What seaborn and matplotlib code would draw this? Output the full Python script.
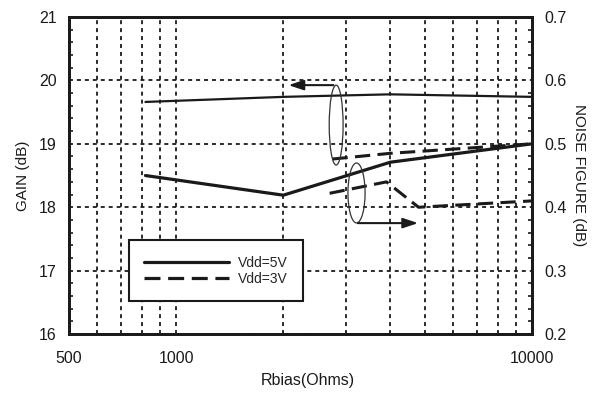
import numpy as np
import pandas as pd
import matplotlib
matplotlib.use("Agg")
import matplotlib.pyplot as plt
from matplotlib.patches import Ellipse
from matplotlib.lines import Line2D
from matplotlib.ticker import FixedLocator, NullFormatter, FixedFormatter
import seaborn as sns

# Gain (left axis) and noise figure (right axis) versus bias resistor
gain_5v_r = [820, 2000, 4000, 10000]
gain_5v = [19.66, 19.74, 19.78, 19.74]
gain_3v_r = [2750, 4000, 10000]
gain_3v = [18.76, 18.85, 19.0]

nf_5v_r = [820, 2000, 4000, 10000]
nf_5v = [0.450, 0.419, 0.471, 0.500]
nf_3v_r = [2700, 3900, 4800, 10000]
nf_3v = [0.422, 0.440, 0.400, 0.410]

x_tick_vals = [500, 1000, 10000]
x_tick_labels = ["500", "1000", "10000"]
gain_ticks = [16, 17, 18, 19, 20, 21]
nf_ticks = [0.2, 0.3, 0.4, 0.5, 0.6, 0.7]

INK = "#1a1a1a"

sns.set_style("white")
plt.rcParams["font.family"] = ["Liberation Sans", "DejaVu Sans"]

fig = plt.figure(figsize=(5.97, 3.94), dpi=100)
ax = fig.add_axes([0.1156, 0.152, 0.7755, 0.805])
ax2 = ax.twinx()

dashed = (5, 2.4)

# Gain curves on the left axis
sns.lineplot(x=gain_5v_r, y=gain_5v, color=INK, linewidth=1.6, ax=ax, sort=False)
sns.lineplot(x=gain_3v_r, y=gain_3v, color=INK, linewidth=2.2, ax=ax, sort=False,
             dashes=False).lines[-1].set_dashes(dashed)
# Noise-figure curves on the right axis
sns.lineplot(x=nf_5v_r, y=nf_5v, color=INK, linewidth=2.3, ax=ax2, sort=False)
sns.lineplot(x=nf_3v_r, y=nf_3v, color=INK, linewidth=2.2, ax=ax2, sort=False).lines[-1].set_dashes(dashed)

for a in (ax, ax2):
    a.set_xscale("log")
    a.set_xlim(500, 10000)

ax.set_ylim(16, 21)
ax2.set_ylim(0.2, 0.7)

# x ticks: labels only at 500, 1000, 10000; grid at every decade subdivision
minor_x = [600, 700, 800, 900, 2000, 3000, 4000, 5000, 6000, 7000, 8000, 9000]
ax.xaxis.set_major_locator(FixedLocator(x_tick_vals))
ax.xaxis.set_major_formatter(FixedFormatter(x_tick_labels))
ax.xaxis.set_minor_locator(FixedLocator(minor_x))
ax.xaxis.set_minor_formatter(NullFormatter())

ax.set_yticks(gain_ticks)
ax.set_yticklabels([str(v) for v in gain_ticks])
ax.yaxis.set_minor_locator(FixedLocator(np.arange(16, 21.01, 0.2)))
ax2.set_yticks(nf_ticks)
ax2.set_yticklabels([f"{v:.1f}" for v in nf_ticks])
ax2.yaxis.set_minor_locator(FixedLocator(np.arange(0.2, 0.701, 0.02)))

grid_kw = dict(color=INK, linestyle=(0, (2.2, 2.2)), linewidth=1.3)
ax.grid(True, which="both", axis="x", **grid_kw)
ax.grid(True, which="major", axis="y", **grid_kw)
ax2.grid(False)

ax.tick_params(axis="x", which="both", length=0, labelsize=11.5, pad=12, colors=INK)
ax.tick_params(axis="y", which="major", length=0, labelsize=11.5, pad=9, colors=INK)
ax.tick_params(axis="y", which="minor", direction="in", length=3, width=1.2, color=INK)
ax2.tick_params(axis="y", which="major", length=0, labelsize=11.5, pad=9, colors=INK)
ax2.tick_params(axis="y", which="minor", direction="in", length=3, width=1.2, color=INK)

for a in (ax, ax2):
    for s in a.spines.values():
        s.set_visible(True)
        s.set_color(INK)
        s.set_linewidth(2.0)

ax.set_xlabel("")
ax.set_ylabel("GAIN (dB)", fontsize=11, labelpad=6, color=INK)
ax2.set_ylabel("NOISE FIGURE (dB)", fontsize=11, rotation=-90, labelpad=14, color=INK)
fig.text(0.515, 0.022, "Rbias(Ohms)", ha="center", va="baseline", fontsize=11.5, color=INK)

# Ellipses marking which axis each pair of curves belongs to
ax2.add_patch(Ellipse((0.577, 0.659), 0.030, 0.252, transform=ax.transAxes,
                      fill=False, edgecolor="#333333", linewidth=0.9, zorder=5))
ax2.add_patch(Ellipse((0.621, 0.445), 0.037, 0.189, transform=ax.transAxes,
                      fill=False, edgecolor="#333333", linewidth=0.9, zorder=5))
arrow_kw = dict(arrowstyle="-|>,head_length=0.9,head_width=0.3", color=INK, lw=1.5)
ax2.annotate("", xy=(0.468, 0.785), xytext=(0.577, 0.785),
             xycoords=ax.transAxes, textcoords=ax.transAxes, arrowprops=arrow_kw, zorder=6)
ax2.annotate("", xy=(0.760, 0.350), xytext=(0.618, 0.350),
             xycoords=ax.transAxes, textcoords=ax.transAxes, arrowprops=arrow_kw, zorder=6)

handles = [Line2D([], [], color=INK, lw=2.3, linestyle="-"),
           Line2D([], [], color=INK, lw=2.3, linestyle=(0, dashed))]
leg = ax2.legend(handles, ["Vdd=5V", "Vdd=3V"], loc="lower left",
                 bbox_to_anchor=(0.130, 0.104), fontsize=10, handlelength=6.1,
                 frameon=True, fancybox=False, borderpad=1.1, handletextpad=0.6,
                 labelspacing=0.15, borderaxespad=0)
leg.get_frame().set_edgecolor(INK)
leg.get_frame().set_linewidth(1.5)
leg.get_frame().set_facecolor("white")
leg.get_frame().set_alpha(1)

fig.savefig("out.png", dpi=100, facecolor="white")
